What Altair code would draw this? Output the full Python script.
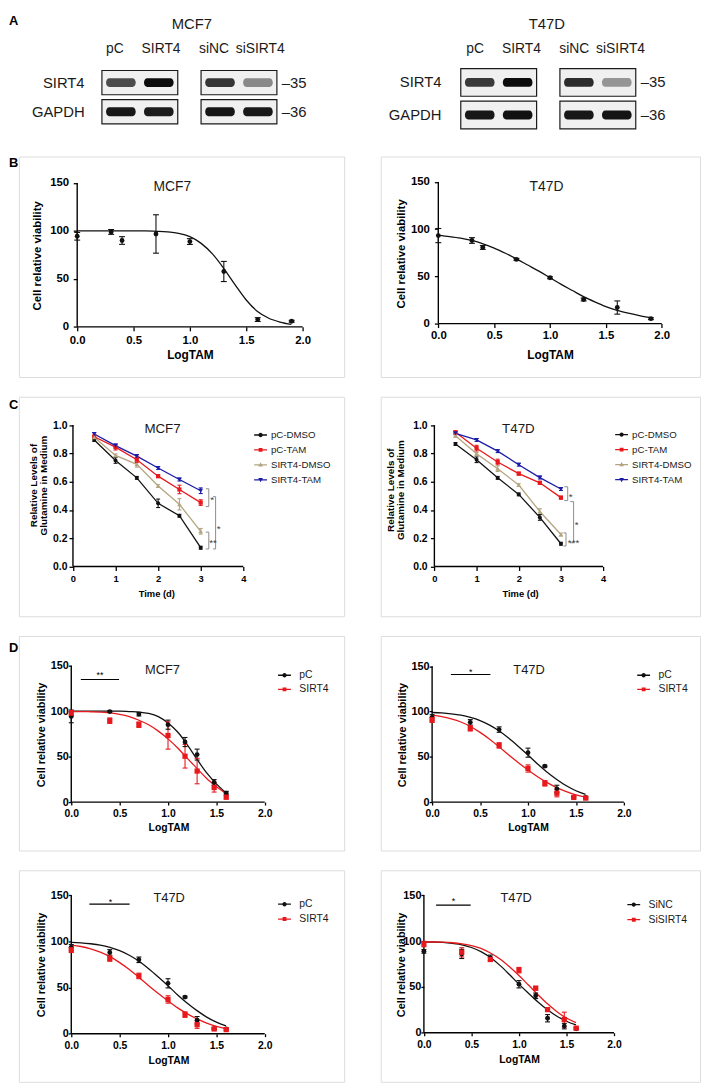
import altair as alt
import pandas as pd

FONT = "Arial"
INK = "#111111"
RED = "#e8191c"
TAN = "#b3a57f"
BLUE = "#1b1ba8"
BOX_GRAY = "#808080"

# ---------------- A: western blots ----------------
blot_groups = ["overexpression", "knockdown"]
blot_lanes = ["pC", "SIRT4", "siNC", "siSIRT4"]
blot_lane_group = ["overexpression", "overexpression", "knockdown", "knockdown"]
blot_lane_slot = ["first", "second", "first", "second"]
blot_rows = ["SIRT4", "GAPDH"]
blot_kda = ["\u201335", "\u201336"]
mcf7_sirt4_band = [0.72, 1.00, 0.82, 0.45]
mcf7_gapdh_band = [0.95, 0.93, 0.96, 0.95]
t47d_sirt4_band = [0.80, 1.00, 0.86, 0.40]
t47d_gapdh_band = [0.95, 0.98, 0.95, 0.97]

# ---------------- B: dose response ----------------
logtam_b = [0.0, 0.301, 0.398, 0.699, 1.0, 1.301, 1.602, 1.903]
b_mcf7_mean = [94.4, 98.9, 90.0, 96.8, 88.9, 57.7, 7.6, 5.8]
b_mcf7_sem = [4.0, 2.5, 4.0, 20.0, 3.0, 10.5, 2.0, 1.0]
b_t47d_mean = [93.2, 88.0, 80.6, 68.0, 48.5, 25.5, 17.0, 5.2]
b_t47d_sem = [7.5, 3.0, 2.0, 1.0, 1.0, 1.5, 7.0, 1.0]
fit_logtam_b = [0.0, 0.1, 0.2, 0.3, 0.4, 0.5, 0.6, 0.7, 0.8, 0.9,
                1.0, 1.1, 1.2, 1.3, 1.4, 1.5, 1.6, 1.7, 1.8, 1.9]
b_mcf7_fit = [100, 100, 100, 100, 100, 100, 100, 99.6, 99, 97.5,
              94, 87, 76, 61, 44, 28, 16, 9, 5, 2.5]
b_t47d_fit = [93.5, 92.2, 90.5, 88, 84.5, 80, 74.5, 68.5, 62, 55.5,
              48.5, 41.5, 35, 28.5, 23, 18, 14, 11, 8.5, 6.3]

# ---------------- C: glutamine in medium ----------------
days = [0.5, 1.0, 1.5, 2.0, 2.5, 3.0]
c_groups = ["pC-DMSO", "pC-TAM", "SIRT4-DMSO", "SIRT4-TAM"]
c_mcf7_pc_dmso = [0.895, 0.750, 0.627, 0.447, 0.359, 0.133]
c_mcf7_pc_tam = [0.918, 0.844, 0.755, 0.639, 0.545, 0.452]
c_mcf7_sirt4_dmso = [0.914, 0.786, 0.723, 0.569, 0.440, 0.249]
c_mcf7_sirt4_tam = [0.937, 0.855, 0.781, 0.697, 0.615, 0.536]
c_mcf7_pc_dmso_sem = [0.01, 0.02, 0.01, 0.03, 0.01, 0.01]
c_mcf7_pc_tam_sem = [0.01, 0.02, 0.02, 0.01, 0.03, 0.02]
c_mcf7_sirt4_dmso_sem = [0.01, 0.01, 0.02, 0.01, 0.04, 0.02]
c_mcf7_sirt4_tam_sem = [0.01, 0.01, 0.01, 0.01, 0.01, 0.02]
c_t47d_pc_dmso = [0.867, 0.755, 0.627, 0.510, 0.347, 0.161]
c_t47d_pc_tam = [0.949, 0.837, 0.739, 0.657, 0.592, 0.487]
c_t47d_sirt4_dmso = [0.925, 0.797, 0.692, 0.576, 0.389, 0.226]
c_t47d_sirt4_tam = [0.942, 0.895, 0.816, 0.720, 0.629, 0.548]
c_t47d_pc_dmso_sem = [0.01, 0.02, 0.01, 0.01, 0.02, 0.01]
c_t47d_pc_tam_sem = [0.01, 0.02, 0.02, 0.01, 0.01, 0.01]
c_t47d_sirt4_dmso_sem = [0.01, 0.01, 0.02, 0.01, 0.02, 0.01]
c_t47d_sirt4_tam_sem = [0.01, 0.01, 0.01, 0.01, 0.01, 0.01]
# significance brackets (day of bracket line, day of bracket tips, top, bottom, label, label day, label level)
c_mcf7_br_x = [3.19, 3.35, 3.19]
c_mcf7_br_tip = [3.12, 3.29, 3.12]
c_mcf7_br_top = [0.550, 0.494, 0.243]
c_mcf7_br_bottom = [0.424, 0.124, 0.124]
c_mcf7_br_label = ["*", "*", "**"]
c_mcf7_br_lx = [3.27, 3.42, 3.29]
c_mcf7_br_ly = [0.494, 0.285, 0.190]
c_t47d_br_x = [3.16, 3.30, 3.12]
c_t47d_br_tip = [3.08, 3.22, 3.06]
c_t47d_br_top = [0.564, 0.459, 0.238]
c_t47d_br_bottom = [0.466, 0.168, 0.145]
c_t47d_br_label = ["*", "*", "***"]
c_t47d_br_lx = [3.23, 3.37, 3.30]
c_t47d_br_ly = [0.513, 0.315, 0.184]

# ---------------- D: dose response pC vs SIRT4 ----------------
logtam_d = [0.0, 0.398, 0.699, 1.0, 1.176, 1.301, 1.477, 1.602]
fit_logtam_d = [0.0, 0.1, 0.2, 0.3, 0.4, 0.5, 0.6, 0.7, 0.8,
                0.9, 1.0, 1.1, 1.2, 1.3, 1.4, 1.5, 1.6]
d_mcf7_groups = ["pC", "SIRT4"]
d_mcf7_pc_mean = [94.2, 99.5, 96.7, 85.1, 66.0, 52.2, 21.7, 9.8]
d_mcf7_pc_sem = [7, 1, 2, 5, 5, 6, 3, 2]
d_mcf7_sirt4_mean = [97.8, 89.5, 85.1, 73.2, 50.4, 34.1, 16.0, 5.4]
d_mcf7_sirt4_sem = [3, 3, 3, 15, 13, 14, 5, 2]
d_mcf7_pc_fit = [100, 100, 100, 100, 100, 100, 99.5, 99, 97.5, 94, 87, 77, 63, 47, 32, 20, 10]
d_mcf7_sirt4_fit = [99.5, 99.5, 99.3, 99, 98, 96.5, 94, 90, 85, 78, 69.5, 59.5, 48, 37, 26, 17, 9]
d_t47d_groups = ["pC", "SIRT4"]
d_t47d_pc_mean = [93.6, 88.1, 80.1, 54.6, 39.7, 14.6, 5.5, 5.1]
d_t47d_pc_sem = [3, 3, 3, 5, 1, 4, 1, 1]
d_t47d_sirt4_mean = [91.0, 81.5, 62.6, 37.1, 20.7, 9.8, 5.1, 4.4]
d_t47d_sirt4_sem = [3, 3, 3, 4, 3, 4, 1, 1]
d_t47d_pc_fit = [99, 98.5, 97.5, 96, 93.5, 90, 85, 78.5, 70.5, 61.5, 52, 42, 33, 25, 18, 12.5, 8.5]
d_t47d_sirt4_fit = [96, 94.5, 92, 88.5, 83.5, 77, 69.5, 61, 52, 43.5, 35.5, 28, 21.5, 16, 11.5, 8, 5.5]
d_si_groups = ["SiNC", "SiSIRT4"]
d_si_nc_mean = [88.8, 86.0, 81.7, 52.9, 40.3, 15.8, 7.2, 4.3]
d_si_nc_sem = [2, 5, 3, 4, 3, 4, 3, 1]
d_si_sirt4_mean = [96.8, 87.8, 79.9, 68.3, 48.6, 25.2, 14.4, 5.0]
d_si_sirt4_sem = [3, 5, 2, 3, 2, 2, 8, 1]
d_si_nc_fit = [99, 99, 98.5, 97.5, 96, 93, 88.5, 82, 73.5, 63.5, 53, 43, 33.5, 25, 18, 12.5, 8.5]
d_si_sirt4_fit = [99, 99, 98.8, 98.2, 97, 95, 92, 87, 80.5, 72, 62.5, 52, 41.5, 31.5, 23, 16, 11]
# significance lines: start, end, level, label, label position
d_sig_mcf7 = [0.099, 0.494, 134.8, "**", 0.296, 142.4]
d_sig_t47d_top = [0.196, 0.608, 141.0, "*", 0.402, 147.0]
d_sig_t47d_bottom = [0.187, 0.603, 140.4, "*", 0.406, 146.4]
d_sig_si = [0.128, 0.492, 139.2, "*", 0.312, 147.0]

# ---------------- symbol paths ----------------
BAR = "M-1,-0.1H1V0.1H-1Z"
LEG_CIRCLE = BAR + "M-0.34,0A0.34,0.34,0,1,1,0.34,0A0.34,0.34,0,1,1,-0.34,0Z"
LEG_SQUARE = BAR + "M-0.3,-0.3H0.3V0.3H-0.3Z"
LEG_UP = BAR + "M0,-0.4L0.36,0.26H-0.36Z"
LEG_DOWN = BAR + "M0,0.4L-0.36,-0.26H0.36Z"
BLOT_BAND = "M-0.78,-0.3H0.78A0.22,0.3,0,0,1,0.78,0.3H-0.78A0.22,0.3,0,0,1,-0.78,-0.3Z"


def lin_domain(p0, v0, p1, v1, start, length):
    k = (p1 - p0) / (v1 - v0)
    a = v0 + (start - p0) / k
    b = v0 + (start + length - p0) / k
    return [min(a, b), max(a, b)]


def long_frame(xs, names, cols, errs=None):
    rows = []
    for i, name in enumerate(names):
        for j, x in enumerate(xs):
            r = {"series": name, "x": x, "y": cols[i][j]}
            if errs is not None:
                r["e"] = errs[i][j]
            rows.append(r)
    return pd.DataFrame(rows)


def title_layer(p):
    L, T, W, H = p["box"]
    return alt.Chart(pd.DataFrame({"t": [p["title"]]})).mark_text(
        align="center", baseline="middle", font=FONT, fontSize=p["tfs"], color="#1a1a1a"
    ).encode(x=alt.value(p["title_at"][0] - L), y=alt.value(p["title_at"][1] - T), text="t:N")


def letter_layer(p):
    L, T, W, H = p["box"]
    return alt.Chart(pd.DataFrame({"t": [p["letter"]]})).mark_text(
        align="left", baseline="top", font=FONT, fontSize=13, fontWeight="bold", color="black"
    ).encode(x=alt.value(-10), y=alt.value(p["letter_top"] - T), text="t:N")


def blot_chart(p, sirt4_band, gapdh_band):
    L, T, W, H = p["box"]
    band_rows = []
    for row, vals in zip(blot_rows, [sirt4_band, gapdh_band]):
        for lane, grp, slot, v in zip(blot_lanes, blot_lane_group, blot_lane_slot, vals):
            band_rows.append({"lane": lane, "group": grp, "slot": slot, "row": row, "intensity": v})
    bands = pd.DataFrame(band_rows)
    boxes = pd.DataFrame([{"group": g, "row": r} for g in blot_groups for r in blot_rows])
    lanes = pd.DataFrame({"lane": blot_lanes, "group": blot_lane_group, "slot": blot_lane_slot})
    kda = pd.DataFrame({"row": blot_rows, "kda": blot_kda, "group": [blot_groups[-1]] * len(blot_rows)})

    xr = [p["blot_x"][0] - L, p["blot_x"][1] - L]
    yr = [p["blot_y"][0] - T, p["blot_y"][1] - T]
    xsc = alt.Scale(type="band", domain=blot_groups, range=xr, paddingInner=0.235, paddingOuter=0)
    ysc = alt.Scale(type="band", domain=blot_rows, range=yr, paddingInner=p["row_pad"], paddingOuter=0)
    yax = alt.Axis(title=None, domain=False, ticks=False, grid=False, labelFont=FONT,
                   labelFontSize=15, labelColor="#1a1a1a", labelPadding=p["row_label_pad"],
                   offset=-xr[0])
    X = alt.X("group:N", scale=xsc, axis=None)
    Yr = alt.Y("row:N", scale=ysc, axis=yax)
    layers = [
        alt.Chart(boxes).mark_rect(fill="#f0f0f0", stroke="#1a1a1a", strokeWidth=1.2).encode(x=X, y=Yr),
        alt.Chart(kda).mark_text(font=FONT, fontSize=15, color="#1a1a1a", align="left",
                                 baseline="middle", dx=5).encode(
            x=alt.X("group:N", scale=xsc, axis=None, bandPosition=1), y=Yr, text="kda:N"),
    ]
    for slot, bpos in zip(["first", "second"], [0.25, 0.75]):
        layers.append(alt.Chart(bands).transform_filter(alt.datum.slot == slot).mark_point(
            shape=BLOT_BAND, filled=True, size=900, color="#0c0c0c", strokeWidth=0).encode(
            x=alt.X("group:N", scale=xsc, axis=None, bandPosition=bpos), y=Yr,
            opacity=alt.Opacity("intensity:Q", scale=alt.Scale(domain=[0, 1], range=[0, 1]), legend=None)))
    for slot, pos in zip(["first", "second"], p["lane_label_pos"]):
        layers.append(alt.Chart(lanes).transform_filter(alt.datum.slot == slot).mark_text(
            font=FONT, fontSize=14, color="#1a1a1a", baseline="middle").encode(
            x=alt.X("group:N", scale=xsc, axis=None, bandPosition=pos),
            y=alt.value(p["lane_y"] - T), text="lane:N"))
    layers.append(title_layer(p))
    if p.get("letter"):
        layers.append(letter_layer(p))
    return alt.layer(*layers).properties(width=W, height=H,
                                         view=alt.ViewBackground(stroke="transparent"))


def xy_panel(p, names, colors, shapes, sizes, pts, curve, interp, legend=None, brackets=None, sig=None):
    L, T, W, H = p["box"]
    x0, x1 = p["xpix"]
    y0, y1 = p["ypix"]
    xt, yt = p["xticks"], p["yticks"]
    xsc = alt.Scale(domain=lin_domain(x0, xt[0], x1, xt[-1], L, W), nice=False, zero=False)
    ysc = alt.Scale(domain=lin_domain(y0, yt[0], y1, yt[-1], T, H), nice=False, zero=False)
    common = dict(domain=False, grid=False, tickColor="black", tickWidth=1.3, labelFont=FONT,
                  labelFontWeight="bold", labelColor="black", labelFlush=False, labelOverlap=False,
                  titleFont=FONT, titleFontWeight="bold", titleColor="black", titleBaseline="middle",
                  titleAlign="center")
    xaxis = alt.Axis(values=xt, format=p["xfmt"], offset=-(T + H - y0), tickSize=p["tick"],
                     labelFontSize=p["xlfs"], labelPadding=p["xlp"], title=p["xtitle"],
                     titleFontSize=p["xtfs"], titleX=p["xtitle_at"][0] - L,
                     titleY=p["xtitle_at"][1] - y0, titleAngle=0, **common)
    yaxis = alt.Axis(values=yt, format=p["yfmt"], offset=-(x0 - L), tickSize=p["tick"],
                     labelFontSize=p["ylfs"], labelPadding=p["ylp"], title=p["ytitle"],
                     titleFontSize=p["ytfs"], titleLineHeight=p["ytfs"] - 0.5,
                     titleX=p["ytitle_at"][0] - x0, titleY=p["ytitle_at"][1] - T,
                     titleAngle=270, **common)

    def X(f):
        return alt.X(f, type="quantitative", scale=xsc, axis=xaxis)

    def Y(f):
        return alt.Y(f, type="quantitative", scale=ysc, axis=yaxis)

    def C(leg=None):
        return alt.Color("series:N", scale=alt.Scale(domain=names, range=colors), legend=leg)

    layers = []
    axis_df = pd.DataFrame({"x": [xt[0], xt[0]], "x2": [xt[-1], xt[0]],
                            "y": [yt[0], yt[0]], "y2": [yt[0], yt[-1]]})
    layers.append(alt.Chart(axis_df).mark_rule(color="black", strokeWidth=1.4).encode(
        x=X("x"), x2="x2", y=Y("y"), y2="y2"))
    layers.append(alt.Chart(curve).mark_line(strokeWidth=1.3, interpolate=interp).encode(
        x=X("x"), y=Y("y"), color=C()))
    eb = alt.Chart(pts).transform_calculate(lo="datum.y - datum.e", hi="datum.y + datum.e")
    layers.append(eb.mark_rule(strokeWidth=1.1).encode(x=X("x"), y=Y("lo"), y2="hi", color=C()))
    for f in ("lo", "hi"):
        layers.append(eb.mark_tick(orient="horizontal", size=p["cap"], thickness=1.1, opacity=1).encode(
            x=X("x"), y=Y(f), color=C()))
    for name, col, shp, sz in zip(names, colors, shapes, sizes):
        layers.append(alt.Chart(pts).transform_filter(alt.datum.series == name).mark_point(
            filled=True, opacity=1, strokeWidth=0, shape=shp, size=sz, color=col).encode(
            x=X("x"), y=Y("y")))

    if legend is not None:
        cx, cy, spacing, lab_x, lfs, paths = legend
        leg = alt.Legend(orient="none", legendX=cx - 6.5 - L, legendY=cy - 6.5 - T, title=None,
                         padding=0, symbolSize=169, symbolStrokeWidth=0, symbolOpacity=1,
                         labelFont=FONT, labelFontSize=lfs, labelColor="#1a1a1a",
                         labelOffset=lab_x - (cx + 6.5), rowPadding=spacing - 13)
        layers.append(alt.Chart(pts).transform_filter("false").mark_point(
            filled=True, opacity=1, strokeWidth=0).encode(
            x=X("x"), y=Y("y"), color=C(leg),
            shape=alt.Shape("series:N", scale=alt.Scale(domain=names, range=paths), legend=leg)))

    if brackets is not None:
        bx, btip, btop, bbot, blab, blx, bly = brackets
        bdf = pd.DataFrame({"xl": bx, "xt": btip, "y1": btop, "y2": bbot, "lab": blab, "lx": blx, "ly": bly})
        bc = alt.Chart(bdf)
        layers.append(bc.mark_rule(color="#8c8c8c", strokeWidth=1).encode(x=X("xl"), y=Y("y1"), y2="y2"))
        layers.append(bc.mark_rule(color="#8c8c8c", strokeWidth=1).encode(x=X("xt"), x2="xl", y=Y("y1")))
        layers.append(bc.mark_rule(color="#8c8c8c", strokeWidth=1).encode(x=X("xt"), x2="xl", y=Y("y2")))
        layers.append(bc.mark_text(font=FONT, fontSize=10, color="#444444", baseline="middle", dy=3).encode(
            x=X("lx"), y=Y("ly"), text="lab:N"))
    if sig is not None:
        sdf = pd.DataFrame({"x1": [sig[0]], "x2": [sig[1]], "y": [sig[2]], "lab": [sig[3]],
                            "lx": [sig[4]], "ly": [sig[5]]})
        sc = alt.Chart(sdf)
        layers.append(sc.mark_rule(color="black", strokeWidth=1.2).encode(x=X("x1"), x2="x2", y=Y("y")))
        layers.append(sc.mark_text(font=FONT, fontSize=9, color="black", baseline="middle", dy=3).encode(
            x=X("lx"), y=Y("ly"), text="lab:N"))
    layers.append(title_layer(p))
    if p.get("letter"):
        layers.append(letter_layer(p))
    return alt.layer(*layers).resolve_scale(color="independent", shape="independent").properties(
        width=W, height=H)


# ---------------- layout (window pixels) ----------------
A_MCF7 = dict(box=(18, 8, 329, 123), blot_x=(102, 279), blot_y=(64, 118), row_pad=0.17,
              row_label_pad=18, lane_y=42, lane_label_pos=(0.17, 0.78), title="MCF7",
              title_at=(193, 17), tfs=15, letter="A", letter_top=8)
A_T47D = dict(box=(384, 8, 323, 123), blot_x=(465, 642), blot_y=(62, 123), row_pad=0.15,
              row_label_pad=20, lane_y=42, lane_label_pos=(0.19, 0.80), title="T47D",
              title_at=(552, 17), tfs=15)

DOSE = dict(xticks=[0, 0.5, 1, 1.5, 2], yticks=[0, 50, 100, 150], xfmt=".1f", yfmt="d",
            xtitle="LogTAM", ytitle="Cell relative viability")
B_L = dict(DOSE, box=(18, 151, 329, 223), xpix=(77.0, 305.0), ypix=(323.3, 177.7), tick=4,
           xlfs=11.5, ylfs=11.5, xlp=4.3, ylp=4.7, xtfs=12, xtitle_at=(191, 351), ytfs=11.5,
           ytitle_at=(36.7, 251), title="MCF7", tfs=14, title_at=(173.3, 182.3), cap=6,
           letter="B", letter_top=152)
B_R = dict(DOSE, box=(384, 151, 323, 223), xpix=(442.3, 668.3), ypix=(320.0, 176.7), tick=4,
           xlfs=11.5, ylfs=11.5, xlp=2.5, ylp=5, xtfs=12, xtitle_at=(555.3, 351), ytfs=11.5,
           ytitle_at=(405, 249), title="T47D", tfs=14, title_at=(551.7, 182), cap=6)
GLN = dict(xticks=[0, 1, 2, 3, 4], yticks=[0, 0.2, 0.4, 0.6, 0.8, 1.0], xfmt="d", yfmt=".1f",
           xtitle="Time (d)", ytitle=["Relative Levels of", "Glutamine in Medium"], tick=4,
           xlfs=9.5, ylfs=10.5, xlp=3, xtfs=9.5, ytfs=10, tfs=13.5, cap=4)
C_L = dict(GLN, box=(18, 394, 329, 222), xpix=(72.7, 245.0), ypix=(565.7, 422.7), ylp=2,
           xtitle_at=(157, 592.7), ytitle_at=(33.3, 483.3), title="MCF7", title_at=(163.3, 426.7),
           letter="C", letter_top=396)
C_R = dict(GLN, box=(384, 394, 323, 222), xpix=(438.3, 609.0), ypix=(565.7, 422.7), ylp=3.3,
           xtitle_at=(525, 592.7), ytitle_at=(394.3, 488), title="T47D", title_at=(523.3, 426.7))
DD = dict(DOSE, tick=3, xlfs=10.5, ylfs=11, ylp=0, xtfs=10.5, ytfs=11, tfs=13, cap=5)
D_TL = dict(DD, box=(18, 636, 329, 217), xpix=(71.0, 266.7), ypix=(804.0, 666.0), xlp=3.8,
            xtitle_at=(169.3, 830), ytitle_at=(40.8, 735.7), title="MCF7", title_at=(163.3, 670),
            letter="D", letter_top=642.7)
D_TR = dict(DD, box=(384, 636, 323, 217), xpix=(436.0, 630.0), ypix=(804.0, 666.7), xlp=3.8,
            xtitle_at=(533, 830), ytitle_at=(406, 735.8), title="T47D", title_at=(534, 670))
D_BL = dict(DD, box=(18, 873, 329, 214), xpix=(71.0, 266.7), ypix=(1038.3, 898.3), xlp=3.9,
            xtitle_at=(169.3, 1065), ytitle_at=(40.5, 968.3), title="T47D", title_at=(170, 901))
D_BR = dict(DD, box=(384, 873, 323, 214), xpix=(427.7, 620.0), ypix=(1037.3, 898.3), xlp=4.4,
            xtitle_at=(524, 1064.3), ytitle_at=(405.5, 968.3), title="T47D", title_at=(521, 901))

# ---------------- build panels ----------------
a1 = blot_chart(A_MCF7, mcf7_sirt4_band, mcf7_gapdh_band)
a2 = blot_chart(A_T47D, t47d_sirt4_band, t47d_gapdh_band)

b1 = xy_panel(B_L, ["MCF7"], [INK], ["circle"], [24],
              long_frame(logtam_b, ["MCF7"], [b_mcf7_mean], [b_mcf7_sem]),
              long_frame(fit_logtam_b, ["MCF7"], [b_mcf7_fit]), "monotone")
b2 = xy_panel(B_R, ["T47D"], [INK], ["circle"], [24],
              long_frame(logtam_b, ["T47D"], [b_t47d_mean], [b_t47d_sem]),
              long_frame(fit_logtam_b, ["T47D"], [b_t47d_fit]), "monotone")

c_colors = [INK, RED, TAN, BLUE]
c_shapes = ["circle", "square", "triangle-up", "triangle-down"]
c_sizes = [16, 18, 22, 22]
c_paths = [LEG_CIRCLE, LEG_SQUARE, LEG_UP, LEG_DOWN]
c_mcf7_vals = [c_mcf7_pc_dmso, c_mcf7_pc_tam, c_mcf7_sirt4_dmso, c_mcf7_sirt4_tam]
c_mcf7_errs = [c_mcf7_pc_dmso_sem, c_mcf7_pc_tam_sem, c_mcf7_sirt4_dmso_sem, c_mcf7_sirt4_tam_sem]
c_t47d_vals = [c_t47d_pc_dmso, c_t47d_pc_tam, c_t47d_sirt4_dmso, c_t47d_sirt4_tam]
c_t47d_errs = [c_t47d_pc_dmso_sem, c_t47d_pc_tam_sem, c_t47d_sirt4_dmso_sem, c_t47d_sirt4_tam_sem]
c1 = xy_panel(C_L, c_groups, c_colors, c_shapes, c_sizes,
              long_frame(days, c_groups, c_mcf7_vals, c_mcf7_errs),
              long_frame(days, c_groups, c_mcf7_vals), "linear",
              legend=(262.5, 432.7, 16.1, 273.0, 9.8, c_paths),
              brackets=(c_mcf7_br_x, c_mcf7_br_tip, c_mcf7_br_top, c_mcf7_br_bottom,
                        c_mcf7_br_label, c_mcf7_br_lx, c_mcf7_br_ly))
c2 = xy_panel(C_R, c_groups, c_colors, c_shapes, c_sizes,
              long_frame(days, c_groups, c_t47d_vals, c_t47d_errs),
              long_frame(days, c_groups, c_t47d_vals), "linear",
              legend=(627.7, 432.3, 16.2, 638.3, 9.8, c_paths),
              brackets=(c_t47d_br_x, c_t47d_br_tip, c_t47d_br_top, c_t47d_br_bottom,
                        c_t47d_br_label, c_t47d_br_lx, c_t47d_br_ly))

d_colors = [INK, RED]
d_shapes = ["circle", "square"]
d_sizes = [24, 28]
d_paths = [LEG_CIRCLE, LEG_SQUARE]
d1 = xy_panel(D_TL, d_mcf7_groups, d_colors, d_shapes, d_sizes,
              long_frame(logtam_d, d_mcf7_groups, [d_mcf7_pc_mean, d_mcf7_sirt4_mean],
                         [d_mcf7_pc_sem, d_mcf7_sirt4_sem]),
              long_frame(fit_logtam_d, d_mcf7_groups, [d_mcf7_pc_fit, d_mcf7_sirt4_fit]), "monotone",
              legend=(286.7, 675.7, 15.3, 301.7, 10.5, d_paths), sig=d_sig_mcf7)
d2 = xy_panel(D_TR, d_t47d_groups, d_colors, d_shapes, d_sizes,
              long_frame(logtam_d, d_t47d_groups, [d_t47d_pc_mean, d_t47d_sirt4_mean],
                         [d_t47d_pc_sem, d_t47d_sirt4_sem]),
              long_frame(fit_logtam_d, d_t47d_groups, [d_t47d_pc_fit, d_t47d_sirt4_fit]), "monotone",
              legend=(650.0, 675.7, 15.3, 665.0, 10.5, d_paths), sig=d_sig_t47d_top)
d3 = xy_panel(D_BL, d_t47d_groups, d_colors, d_shapes, d_sizes,
              long_frame(logtam_d, d_t47d_groups, [d_t47d_pc_mean, d_t47d_sirt4_mean],
                         [d_t47d_pc_sem, d_t47d_sirt4_sem]),
              long_frame(fit_logtam_d, d_t47d_groups, [d_t47d_pc_fit, d_t47d_sirt4_fit]), "monotone",
              legend=(286.7, 907.3, 16.0, 301.7, 10.5, d_paths), sig=d_sig_t47d_bottom)
d4 = xy_panel(D_BR, d_si_groups, d_colors, d_shapes, d_sizes,
              long_frame(logtam_d, d_si_groups, [d_si_nc_mean, d_si_sirt4_mean],
                         [d_si_nc_sem, d_si_sirt4_sem]),
              long_frame(fit_logtam_d, d_si_groups, [d_si_nc_fit, d_si_sirt4_fit]), "monotone",
              legend=(640.0, 907.7, 16.3, 655.0, 10.5, d_paths), sig=d_sig_si)

RES = dict(color="independent", shape="independent", size="independent", opacity="independent")

chart = alt.concat(
    a1, a2, b1, b2, c1, c2, d1, d2, d3, d4,
    columns=2, spacing={"row": 20, "column": 37}, bounds="flush", align="each"
).resolve_scale(**RES).properties(padding=0, background="white").configure_view(
    stroke=BOX_GRAY, strokeWidth=1.3
).configure(font=FONT)

chart.save("out.html", embed_options={"renderer": "svg", "actions": False})
